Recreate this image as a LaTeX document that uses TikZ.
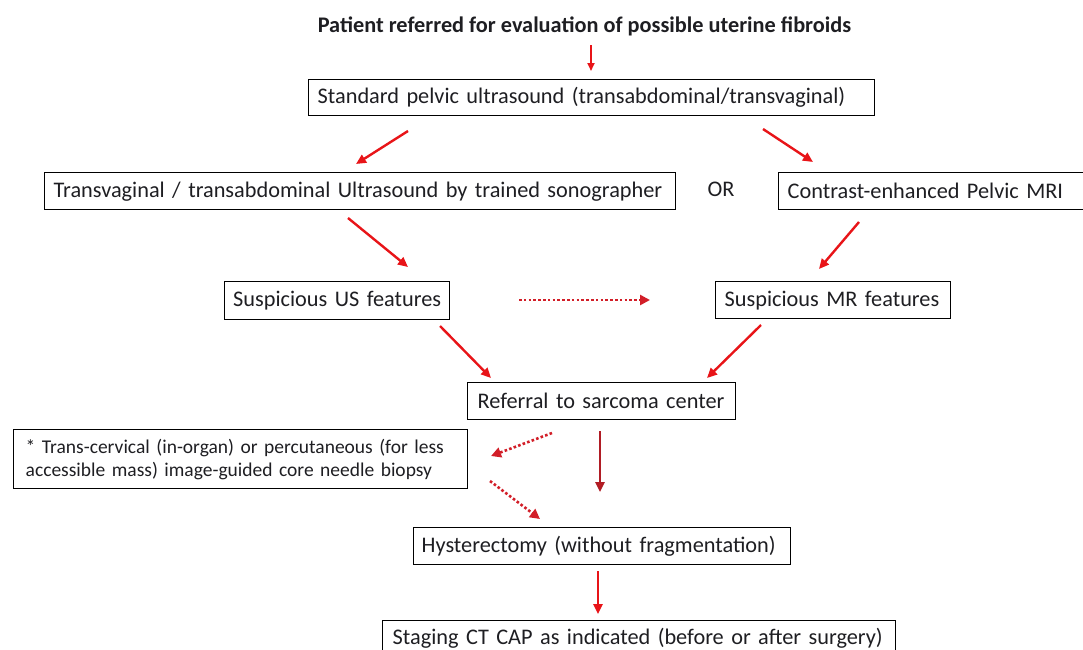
\documentclass[tikz,border=0pt]{standalone}
\usepackage{fontspec}
\setmainfont{Carlito}
\usetikzlibrary{arrows.meta}
\definecolor{arr}{RGB}{232,20,24}
\definecolor{darr}{RGB}{176,28,36}
\definecolor{dotc}{RGB}{210,30,40}
\definecolor{txt}{RGB}{30,30,34}
\tikzset{
  box/.style={draw=black, line width=1.4pt, inner ysep=0pt, inner xsep=9pt, align=left,
    font=\fontsize{22.3}{26}\selectfont, text=txt},
  lbl/.style={font=\fontsize{22.3}{26}\selectfont, text=txt, inner sep=0pt},
  arrw/.style={draw=arr, line width=2.4pt, -{Triangle[length=10pt,width=9pt]}},
  darrw/.style={draw=dotc, line width=2.6pt, dash pattern=on 2.6pt off 2.2pt, -{Triangle[length=10pt,width=10pt]}},
}
\begin{document}
\begin{tikzpicture}[x=1pt,y=-1pt]
\useasboundingbox (0,0) rectangle (1083,649);
\node[lbl, font=\fontsize{22.3}{26}\bfseries\selectfont] (title) at (584.5,26) {Patient referred for evaluation of possible uterine fibroids};
\node[box, anchor=north west, text width=548pt, minimum height=36pt] (b1) at (308,79) {\mbox{Standard pelvic ultrasound (transabdominal/transvaginal)}};
\node[box, anchor=north west, text width=613pt, minimum height=37pt] (b2) at (44,172) {\mbox{Transvaginal / transabdominal Ultrasound by trained sonographer}};
\node[lbl] (or) at (721,189) {OR};
\node[box, anchor=north west, text width=294pt, minimum height=37pt] (b3) at (778,172) {\mbox{Contrast-enhanced Pelvic MRI}};
\node[box, anchor=north west, text width=208pt, minimum height=38pt, inner xsep=8.5pt] (b4) at (224,281) {\mbox{Suspicious US features}};
\node[box, anchor=north west, text width=217pt, minimum height=37pt] (b5) at (715,281) {\mbox{Suspicious MR features}};
\node[box, anchor=north west, text width=248pt, minimum height=37pt, inner xsep=10pt] (b6) at (467,382) {\mbox{Referral to sarcoma center}};
\node[box, anchor=north west, text width=430pt, minimum height=59pt, inner xsep=12pt, font=\fontsize{19.5}{23}\selectfont] (b7) at (13,429) {\mbox{* Trans-cervical (in-organ) or percutaneous (for less}\\\mbox{accessible mass) image-guided core needle biopsy}};
\node[box, anchor=north west, text width=361pt, minimum height=37pt, inner xsep=8pt] (b8) at (413,527) {\mbox{Hysterectomy (without fragmentation)}};
\node[box, anchor=north west, text width=493pt, minimum height=36pt, inner xsep=10pt] (b9) at (382,620) {\mbox{Staging CT CAP as indicated (before or after surgery)}};
% connector end points
\coordinate (t0) at (591,45); \coordinate (t1) at (591,71);
\coordinate (l0) at (408,131); \coordinate (l1) at (356,164);
\coordinate (r0) at (763,129); \coordinate (r1) at (813,162);
\coordinate (u0) at (348,218); \coordinate (u1) at (408,267);
\coordinate (m0) at (859,222); \coordinate (m1) at (819,269);
\coordinate (d0) at (519,300); \coordinate (d1) at (650,300);
\coordinate (s0) at (440,326); \coordinate (s1) at (491,378);
\coordinate (q0) at (761,325); \coordinate (q1) at (707,378);
\coordinate (v0) at (600,431); \coordinate (v1) at (600,492);
\coordinate (p0) at (552,433); \coordinate (p1) at (491,456);
\coordinate (h0) at (490,481); \coordinate (h1) at (540,519);
\coordinate (w0) at (598,571); \coordinate (w1) at (598,614);
\draw[arrw, line width=1.8pt, -{Triangle[length=8pt,width=7pt]}] (t0) -- (t1);
\draw[arrw] (l0) -- (l1);
\draw[arrw] (r0) -- (r1);
\draw[arrw] (u0) -- (u1);
\draw[arrw] (m0) -- (m1);
\draw[darrw] (d0) -- (d1);
\draw[arrw] (s0) -- (s1);
\draw[arrw] (q0) -- (q1);
\draw[arrw, draw=darr, -{Triangle[length=10pt,width=9pt,fill=arr]}] (v0) -- (v1);
\draw[darrw] (p0) -- (p1);
\draw[darrw] (h0) -- (h1);
\draw[arrw] (w0) -- (w1);
\end{tikzpicture}
\end{document}
